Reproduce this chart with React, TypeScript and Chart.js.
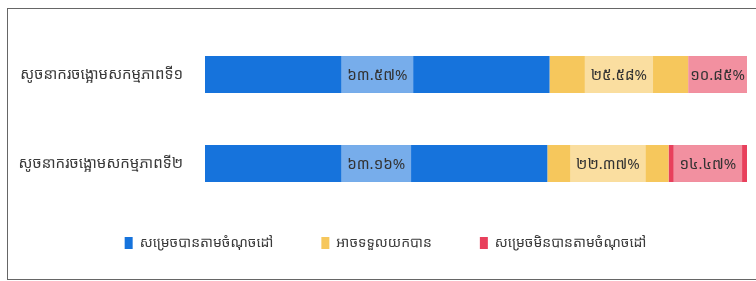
import React, { useEffect, useRef } from "react";
import { Chart, registerables } from "chart.js";

Chart.register(...registerables);

const categories = ["សូចនាករចង្អោមសកម្មភាពទី១", "សូចនាករចង្អោមសកម្មភាពទី២"];
const seriesNames = ["សម្រេចបានតាមចំណុចដៅ", "អាចទទួលយកបាន", "សម្រេចមិនបានតាមចំណុចដៅ"];
const achieved = [63.57, 63.16];
const acceptable = [25.58, 22.37];
const notAchieved = [10.85, 14.47];
const seriesColors = ["#1673dc", "#f6c75c", "#e8405c"];

const KHMER_DIGITS = ["០", "១", "២", "៣", "៤", "៥", "៦", "៧", "៨", "៩"];
const toKhmer = (v: number) =>
  v.toFixed(2).replace(/[0-9]/g, (d) => KHMER_DIGITS[Number(d)]) + "%";

const FONT = "'Noto Sans Khmer', 'Khmer OS', 'Khmer OS System', 'Noto Sans', sans-serif";
const LEGEND_PAD = 48;
const LEGEND_SHIFT_Y = 20;
const LEGEND_SHIFT_X = 12;

const labelPlugin = {
  id: "barLabels",
  afterDatasetsDraw(chart: any) {
    const ctx = chart.ctx;
    ctx.save();
    ctx.font = `15px ${FONT}`;
    ctx.textAlign = "center";
    ctx.textBaseline = "middle";
    chart.data.datasets.forEach((ds: any, di: number) => {
      const meta = chart.getDatasetMeta(di);
      meta.data.forEach((bar: any, i: number) => {
        const v = ds.data[i];
        const text = toKhmer(v);
        const { x, y, base, height } = bar.getProps(["x", "y", "base", "height"], true);
        const cx = (x + base) / 2;
        const w = ctx.measureText(text).width + 12;
        const segW = Math.abs(x - base);
        const bw = Math.min(w, segW);
        ctx.fillStyle = "rgba(255,255,255,0.42)";
        ctx.fillRect(cx - bw / 2, y - height / 2, bw, height);
        ctx.fillStyle = "#333333";
        ctx.fillText(text, cx, y + 1);
      });
    });
    ctx.restore();
  },
};

const legendShiftPlugin = {
  id: "legendShift",
  afterLayout(chart: any) {
    const lg = chart.legend;
    if (lg) {
      lg.top -= LEGEND_SHIFT_Y;
      lg.bottom -= LEGEND_SHIFT_Y;
      lg.left += LEGEND_SHIFT_X;
      lg.right += LEGEND_SHIFT_X;
    }
  },
};

export default function App() {
  const ref = useRef<HTMLCanvasElement>(null);
  useEffect(() => {
    const chart = new Chart(ref.current!, {
      type: "bar",
      data: {
        labels: categories,
        datasets: [
          { label: seriesNames[0], data: achieved, backgroundColor: seriesColors[0] },
          { label: seriesNames[1], data: acceptable, backgroundColor: seriesColors[1] },
          { label: seriesNames[2], data: notAchieved, backgroundColor: seriesColors[2] },
        ],
      },
      options: {
        indexAxis: "y",
        responsive: false,
        animation: false,
        layout: { padding: { top: 30, right: 9, left: 0, bottom: 1 } },
        datasets: { bar: { barPercentage: 0.83, categoryPercentage: 0.5 } },
        scales: {
          x: { stacked: true, min: 0, max: 100, display: false },
          y: {
            stacked: true,
            grid: { display: false },
            border: { display: false },
            afterFit: (s: any) => {
              s.width = 205;
            },
            ticks: {
              padding: 14,
              color: "#3a3a3a",
              font: { size: 15, family: FONT },
            },
          },
        },
        plugins: {
          legend: {
            position: "bottom",
            labels: {
              boxWidth: 8,
              boxHeight: 12,
              padding: LEGEND_PAD,
              color: "#3a3a3a",
              font: { size: 14, family: FONT },
            },
          },
          tooltip: { enabled: false },
        },
      },
      plugins: [labelPlugin, legendShiftPlugin],
    });
    return () => chart.destroy();
  }, []);
  return (
    <div style={{ position: "fixed", left: 0, top: 0, width: 756, height: 281, background: "#fff" }}>
      <div
        style={{
          position: "absolute",
          left: 7,
          top: 8,
          width: 749,
          height: 270,
          borderLeft: "1.5px solid #666",
          borderTop: "1.5px solid #666",
          borderBottom: "1.5px solid #666",
        }}
      />
      <canvas ref={ref} width={756} height={281} style={{ position: "absolute", left: 0, top: 0 }} />
    </div>
  );
}
